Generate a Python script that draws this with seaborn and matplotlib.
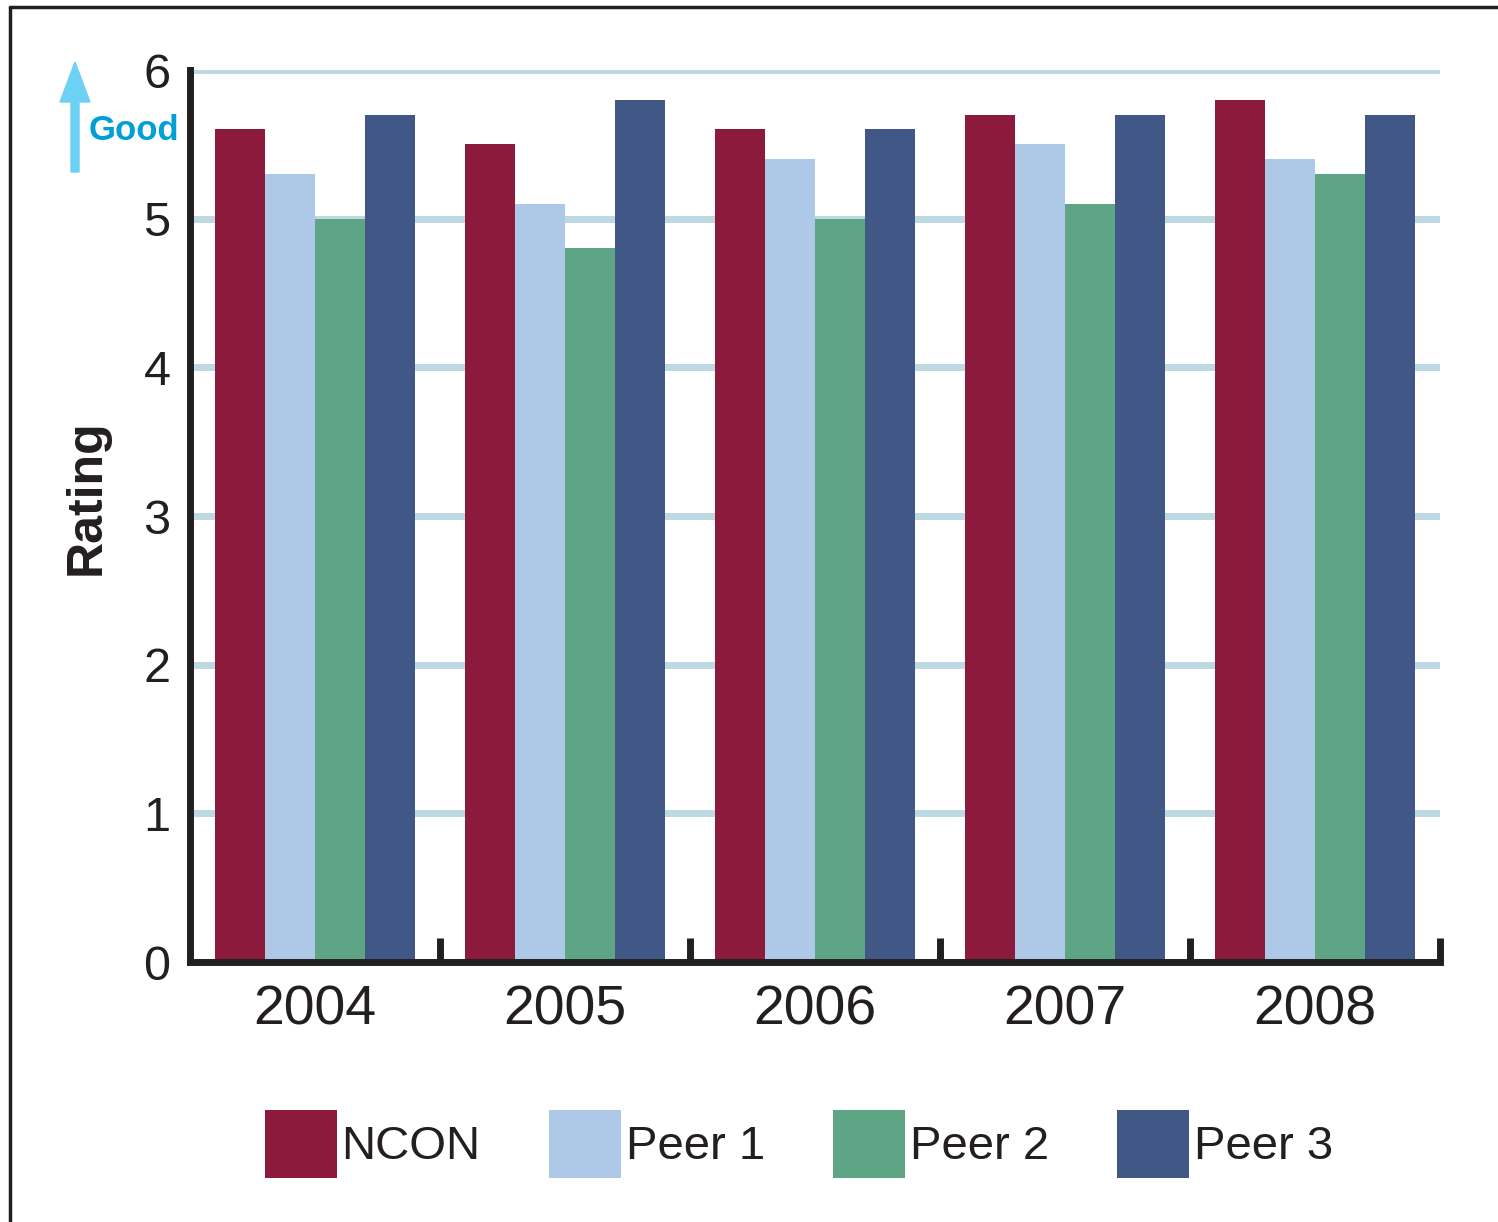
import matplotlib
matplotlib.use("Agg")
import matplotlib.pyplot as plt
import matplotlib.transforms as mtrans
import seaborn as sns
import pandas as pd
from matplotlib.patches import Patch, FancyArrow
from matplotlib.lines import Line2D

years = ["2004", "2005", "2006", "2007", "2008"]
series = ["NCON", "Peer 1", "Peer 2", "Peer 3"]
ncon = [5.6, 5.5, 5.6, 5.7, 5.8]
peer1 = [5.3, 5.1, 5.4, 5.5, 5.4]
peer2 = [5.0, 4.8, 5.0, 5.1, 5.3]
peer3 = [5.7, 5.8, 5.6, 5.7, 5.7]
colors = ["#8c1a3c", "#aec8e8", "#5ea585", "#415886"]
yticks = [0, 1, 2, 3, 4, 5, 6]

rows = []
for name, vals in zip(series, [ncon, peer1, peer2, peer3]):
    for y, v in zip(years, vals):
        rows.append({"Year": y, "Series": name, "Rating": v})
df = pd.DataFrame(rows)

sns.set_theme(style="white")
narrow = ["Liberation Sans Narrow", "Liberation Sans", "DejaVu Sans"]
plt.rcParams["font.family"] = narrow

fig = plt.figure(figsize=(14.98, 12.22), dpi=100)
ax = fig.add_axes([190/1498, 1 - 962/1222, (1440-190)/1498, (962-70)/1222])

sns.barplot(data=df, x="Year", y="Rating", hue="Series", palette=colors,
            saturation=1, width=0.8, legend=False, ax=ax, zorder=3,
            edgecolor="none", linewidth=0)

ax.set_xlim(-0.5, 4.5)
ax.set_ylim(0, 6)
ax.set_yticks(yticks)
ax.set_yticklabels([str(t) for t in yticks], fontsize=35, color="#231f20")
shift = mtrans.ScaledTranslation(0, 6/100, fig.dpi_scale_trans)
for lbl in ax.get_yticklabels():
    lbl.set_verticalalignment("center_baseline")
    lbl.set_transform(lbl.get_transform() + shift)
ax.yaxis.grid(True, color="#bcd9e4", linewidth=5, zorder=0)
ax.set_axisbelow(True)
ax.tick_params(axis="y", length=0, pad=14)
ax.set_xticks(range(len(years)))
ax.set_xticklabels(years, fontsize=40, color="#231f20")
ax.tick_params(axis="x", length=0, pad=16)
ax.set_xlabel("")
ax.set_ylabel("Rating", fontsize=36, fontweight="bold", color="#231f20")
ax.yaxis.set_label_coords((110 - 190) / 1250, (962 - 497) / 892)

for s in ["top", "right"]:
    ax.spines[s].set_visible(False)
for s in ["left", "bottom"]:
    ax.spines[s].set_color("#231f20")
    ax.spines[s].set_linewidth(5)
    ax.spines[s].set_zorder(5)

# upward boundary ticks between categories
for b in [0.5, 1.5, 2.5, 3.5, 4.5]:
    ax.plot([b, b], [0, 0.16], color="#231f20", lw=5, zorder=6, clip_on=False,
            solid_capstyle="butt")

# "Good" arrow
fig.patches.append(FancyArrow(75/1498, 1 - 172/1222, 0, (172-62)/1222,
                              width=8/1498, head_width=30/1498, head_length=40/1222,
                              length_includes_head=True, color="#6dd0f5",
                              transform=fig.transFigure, figure=fig))
fig.text(89/1498, 1 - 130/1222, "Good", fontsize=25, fontweight="bold",
         color="#00a0d6", ha="left", va="center")

# legend
handles = [Patch(facecolor=c, edgecolor="none", label=n) for c, n in zip(colors, series)]
fig.legend(handles=handles, loc="center", bbox_to_anchor=(799/1498, 1 - 1144/1222),
           ncol=4, frameon=False, fontsize=34, handlelength=1.52, handleheight=1.85,
           handletextpad=0.1, columnspacing=1.45, labelcolor="#231f20")

# outer frame lines
fig.add_artist(Line2D([10/1498, 1.0], [1 - 7/1222, 1 - 7/1222], color="#231f20",
                      lw=2.5, transform=fig.transFigure))
fig.add_artist(Line2D([10/1498, 10/1498], [0, 1 - 7/1222], color="#231f20",
                      lw=2.5, transform=fig.transFigure))

fig.savefig("out.png", dpi=100)
